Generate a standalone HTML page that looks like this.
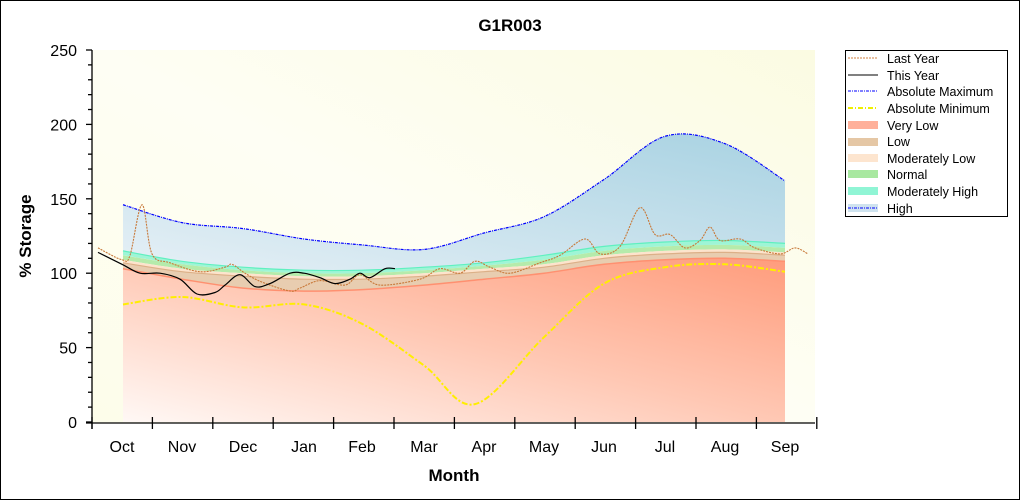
<!DOCTYPE html>
<html><head><meta charset="utf-8"><style>
html,body{margin:0;padding:0;background:#fff;}
svg{display:block;font-family:"Liberation Sans",Arial,sans-serif;}
</style></head><body>
<svg id="s" width="1020" height="500" xmlns="http://www.w3.org/2000/svg">
<defs>
<linearGradient id="bg" x1="0" y1="1" x2="1" y2="0"><stop offset="0" stop-color="#fdfdea"/><stop offset="0.5" stop-color="#fefef4"/><stop offset="1" stop-color="#fbfbe2"/></linearGradient>
<linearGradient id="vl" x1="0" y1="1" x2="1" y2="0"><stop offset="0" stop-color="#fff8f5"/><stop offset="0.5" stop-color="#ffc8b4"/><stop offset="1" stop-color="#ff9c7c"/></linearGradient>
<linearGradient id="hi" x1="0" y1="1" x2="1" y2="0"><stop offset="0" stop-color="#e6f0f6"/><stop offset="1" stop-color="#a8d2e2"/></linearGradient>
</defs>
<rect x="0.5" y="0.5" width="1019" height="499" fill="#fff" stroke="#000"/>
<text x="510" y="31" text-anchor="middle" font-size="17" font-weight="bold">G1R003</text>
<rect x="92" y="50" width="723" height="373" fill="url(#bg)"/>
<g id="plot"></g>
<g id="axes" stroke="#000" stroke-width="1.3"></g>
<g id="lab" font-size="16"></g>
<text x="454" y="481" text-anchor="middle" font-size="17" font-weight="bold">Month</text>
<text transform="translate(31,236) rotate(-90)" text-anchor="middle" font-size="17" font-weight="bold">% Storage</text>
<g font-size="12.5">
<rect x="845.5" y="50.5" width="162" height="166" fill="#fff" stroke="#000"/>
<line x1="848" y1="58" x2="878" y2="58" stroke="#d08040" stroke-dasharray="2,1"/>
<text x="887" y="63">Last Year</text>
<line x1="848" y1="75" x2="878" y2="75" stroke="#000"/>
<text x="887" y="80">This Year</text>
<line x1="848" y1="91" x2="878" y2="91" stroke="#00f" stroke-dasharray="3,1,1,1"/>
<text x="887" y="96">Absolute Maximum</text>
<line x1="848" y1="108" x2="878" y2="108" stroke="#ee0" stroke-width="2" stroke-dasharray="5,2,1,2"/>
<text x="887" y="113">Absolute Minimum</text>
<rect x="848" y="121" width="30" height="8" fill="#ffb09a"/><text x="887" y="130">Very Low</text>
<rect x="848" y="138" width="30" height="8" fill="#e5c7a5"/><text x="887" y="146">Low</text>
<rect x="848" y="154" width="30" height="8" fill="#fde5cf"/><text x="887" y="163">Moderately Low</text>
<rect x="848" y="170" width="30" height="8" fill="#a8e8a0"/><text x="887" y="179">Normal</text>
<rect x="848" y="187" width="30" height="8" fill="#90f5d5"/><text x="887" y="196">Moderately High</text>
<rect x="848" y="204" width="30" height="8" fill="#cfe3ef"/><line x1="848" y1="208" x2="878" y2="208" stroke="#00f" stroke-dasharray="3,1,1,1"/><text x="887" y="213">High</text>
</g>
</svg>
<script>
const NS="http://www.w3.org/2000/svg";
const Y=v=>422-1.488*v;
const MX=[122,182,243,304,362,424,484,544,604,665,725,785];
function mk(t,a,p){const e=document.createElementNS(NS,t);for(const k in a)e.setAttribute(k,a[k]);(p||document.getElementById('plot')).appendChild(e);return e;}
function smooth(pts){let d="M"+pts[0][0]+","+pts[0][1];for(let i=0;i<pts.length-1;i++){const p0=pts[Math.max(0,i-1)],p1=pts[i],p2=pts[i+1],p3=pts[Math.min(pts.length-1,i+2)];
const c1=[p1[0]+(p2[0]-p0[0])/6,p1[1]+(p2[1]-p0[1])/6],c2=[p2[0]-(p3[0]-p1[0])/6,p2[1]-(p3[1]-p1[1])/6];
d+=` C${c1[0].toFixed(1)},${c1[1].toFixed(1)} ${c2[0].toFixed(1)},${c2[1].toFixed(1)} ${p2[0]},${p2[1].toFixed(1)}`;}return d;}
function monthPts(vals){const x=[123,...MX.slice(1,11),785];return vals.map((v,i)=>[x[i],Y(v)]);}
function band(lo,hi,fill){const a=monthPts(hi),b=monthPts(lo).reverse();
let d=smooth(a);d+=" L"+b[0][0]+","+b[0][1]+smooth(b).replace(/^M[^C]*/,"")+"Z";mk('path',{d:d,fill:fill});}
const zero=Array(12).fill(0);
const vl=[103,96,90,88,89,92,96,100,106,109,110,108];
const lo=[107,101,98,96,96,98,101,104,110,113,114,112];
const ml=[109,103,100,98,98,100,103,106,112,115,116,114];
const nm=[112,106,102,100,100,102,105,109,115,118,119,117];
const mh=[115,108,104,102,102,104,107,112,118,121,122,120];
const mx=[146,134,130,123,119,116,127,138,163,192,187,162];
const mn=[79,84,77,79,66,38,12,57,93,104,106,101];
band(mh,mx,"url(#hi)");
band(nm,mh,"#9ef5d6");
band(ml,nm,"#b5ebab");
band(lo,ml,"#fde3cc");
band(vl,lo,"#e8cdb0");
band(zero,vl,"url(#vl)");
mk('path',{d:smooth(monthPts(vl)),fill:"none",stroke:"#ff9070","stroke-width":1.5});
mk('path',{d:smooth(monthPts(lo)),fill:"none",stroke:"#dcb088","stroke-width":1.2});
mk('path',{d:smooth(monthPts(mh)),fill:"none",stroke:"#60f0c0","stroke-width":1.2});
mk('path',{d:smooth(monthPts(mx)),fill:"none",stroke:"#00f","stroke-width":1.2,"stroke-dasharray":"3,1,1,1"});
const mnp=monthPts(mn);mnp[6][0]=475;
mk('path',{d:smooth(mnp),fill:"none",stroke:"#ffee00","stroke-width":2,"stroke-dasharray":"6,2,2,2"});
const ly=[[98,117],[122,109],[130,112],[142,146],[152,113],[170,107],[200,101],[225,104],[232,106],[245,100],[262,94],[290,88],[300,90],[320,95],[345,92],[360,99],[380,92],[420,96],[440,103],[460,100],[475,108],[490,104],[510,100],[540,107],[560,112],[585,123],[600,113],[620,118],[640,144],[655,126],[670,126],[685,117],[700,122],[710,131],[720,122],[740,123],[755,117],[780,113],[795,117],[808,113]].map(p=>[p[0],Y(p[1])]);
mk('path',{d:smooth(ly),fill:"none",stroke:"#c87838","stroke-width":1.1,"stroke-dasharray":"2,1"});
const ty=[[98,114],[122,106],[140,100],[160,100],[180,96],[197,86],[215,87],[225,92],[240,99],[255,91],[270,93],[290,100],[304,100],[320,97],[335,93],[350,96],[360,100],[370,97],[385,103],[395,103]].map(p=>[p[0],Y(p[1])]);
mk('path',{d:smooth(ty),fill:"none",stroke:"#000","stroke-width":1.2});
const ax=document.getElementById('axes'),lab=document.getElementById('lab');
mk('line',{x1:92,y1:50,x2:92,y2:429},ax);
mk('line',{x1:86,y1:423,x2:815,y2:423},ax);
for(let v=0;v<=250;v+=10){const y=Y(v);mk('line',{x1:v%50?88:86,y1:y,x2:92,y2:y},ax);
if(v%50==0){const t=mk('text',{x:77,y:y+6,"text-anchor":"end"},lab);t.textContent=v;}}
const names=["Oct","Nov","Dec","Jan","Feb","Mar","Apr","May","Jun","Jul","Aug","Sep"];
for(let i=0;i<=12;i++){const x=92+i*60.4;mk('line',{x1:x,y1:417,x2:x,y2:429},ax);}
names.forEach((n,i)=>{const t=mk('text',{x:MX[i],y:452,"text-anchor":"middle"},lab);t.textContent=n;});
</script>
</body></html>
